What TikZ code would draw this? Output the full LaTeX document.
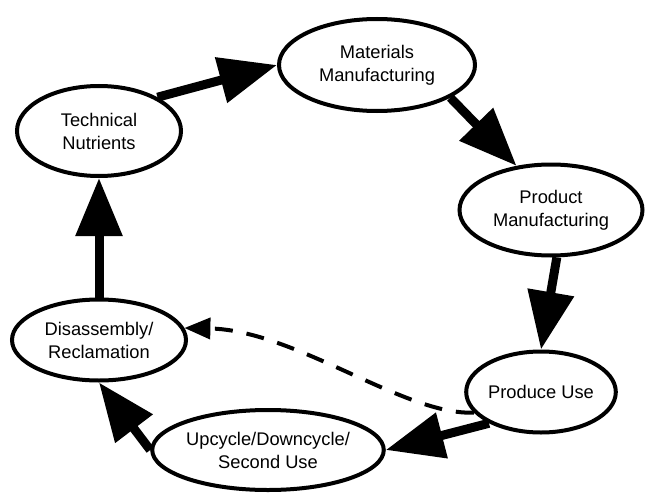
\documentclass[tikz,border=0pt]{standalone}
\usepackage{fontspec}
\setmainfont{Liberation Sans}
\usetikzlibrary{shapes.geometric,arrows.meta}

\tikzset{
  stage/.style={ellipse, draw=black, line width=4pt, fill=white, inner sep=0pt,
    align=center, font=\fontsize{18.3pt}{23pt}\selectfont},
  flow/.style={line width=9pt, -{Triangle[length=58pt,width=45pt]}},
  backflow/.style={line width=4pt, dash pattern=on 18pt off 14pt,
    -{Triangle[length=26pt,width=21pt]}}
}

\begin{document}
\begin{tikzpicture}[x=1pt,y=-1pt]
  \useasboundingbox (0,0) rectangle (647,492);

  % life-cycle stages
  \node[stage, minimum width=164pt, minimum height=90pt] (tn) at (99,131) {Technical\\Nutrients};
  \node[stage, minimum width=196pt, minimum height=92pt] (mm) at (377,65) {Materials\\Manufacturing};
  \node[stage, minimum width=183pt, minimum height=91pt] (pm) at (551,210) {Product\\Manufacturing};
  \node[stage, minimum width=148pt, minimum height=81pt] (pu) at (541,392) {Produce Use};
  \node[stage, minimum width=226pt, minimum height=80pt] (uc) at (268,450) {Upcycle/Downcycle/\\Second Use};
  \node[stage, minimum width=174pt, minimum height=81pt] (dr) at (99,340) {Disassembly/\\Reclamation};

  % main cycle
  \draw[flow] (tn.30) -- (mm.180);
  \draw[flow] (mm.-24) -- (pm.128);
  \draw[flow] (pm.-83) -- (pu.north);
  \draw[flow] (pu.211) -- (uc.0);
  \draw[flow] (uc.180) -- (dr.south);
  \draw[flow] (dr.north) -- (tn.south);

  % direct return path
  \draw[backflow] (pu.197) .. controls (405,416) and (295,330) .. (dr.8);
\end{tikzpicture}
\end{document}
